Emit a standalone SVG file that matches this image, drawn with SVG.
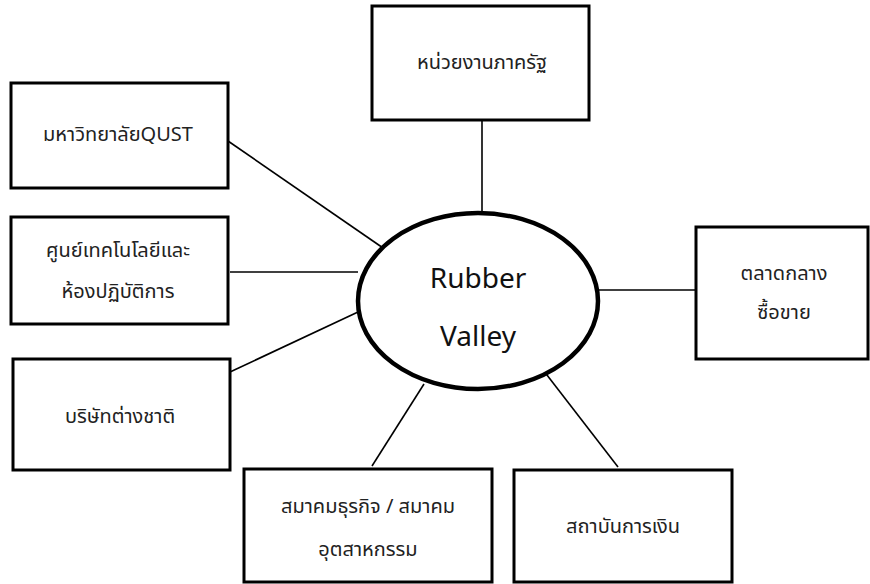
<svg xmlns="http://www.w3.org/2000/svg" width="870" height="584" viewBox="0 0 870 584">
<style>
.box{fill:#fff;stroke:#000;stroke-width:3}
.hub{fill:#fff;stroke:#000;stroke-width:4.5}
.con line{stroke:#000;stroke-width:1.6}
.t{font-family:"Noto Sans Thai","Noto Sans","DejaVu Sans",sans-serif;font-size:20px;fill:#222;text-anchor:middle;dominant-baseline:central}
.h{font-family:"Noto Sans","DejaVu Sans",sans-serif;font-size:28px;fill:#111;text-anchor:middle;dominant-baseline:central}
</style>
<rect width="870" height="584" fill="#fff"/>
<g class="con">
<line x1="482" y1="120" x2="482" y2="212"/>
<line x1="228" y1="141" x2="386" y2="250"/>
<line x1="230" y1="272" x2="358" y2="272"/>
<line x1="230" y1="372" x2="358" y2="312"/>
<line x1="372" y1="466" x2="424" y2="384"/>
<line x1="618" y1="467" x2="540" y2="366"/>
<line x1="598" y1="290" x2="696" y2="290"/>
</g>
<g id="hub"><ellipse class="hub" cx="478" cy="301" rx="120" ry="88"/>
<text class="h" x="478" y="277">Rubber</text>
<text class="h" x="478" y="335">Valley</text></g>
<g id="n-gov"><rect class="box" x="372" y="6" width="217" height="114"/><text class="t" x="482" y="63">หน่วยงานภาครัฐ</text></g>
<g id="n-qust"><rect class="box" x="11" y="83" width="217" height="105"/><text class="t" x="118" y="135">มหาวิทยาลัยQUST</text></g>
<g id="n-tech"><rect class="box" x="11" y="217" width="217" height="107"/><text class="t" x="118" y="251">ศูนย์เทคโนโลยีและ</text><text class="t" x="118" y="292">ห้องปฏิบัติการ</text></g>
<g id="n-corp"><rect class="box" x="13" y="359" width="217" height="111"/><text class="t" x="120" y="417">บริษัทต่างชาติ</text></g>
<g id="n-assoc"><rect class="box" x="244" y="469" width="248" height="113"/><text class="t" x="368" y="507">สมาคมธุรกิจ / สมาคม</text><text class="t" x="368" y="550">อุตสาหกรรม</text></g>
<g id="n-fin"><rect class="box" x="514" y="470" width="218" height="112"/><text class="t" x="623" y="527">สถาบันการเงิน</text></g>
<g id="n-market"><rect class="box" x="696" y="227" width="172" height="132"/><text class="t" x="784" y="274">ตลาดกลาง</text><text class="t" x="784" y="313">ซื้อขาย</text></g>
</svg>
